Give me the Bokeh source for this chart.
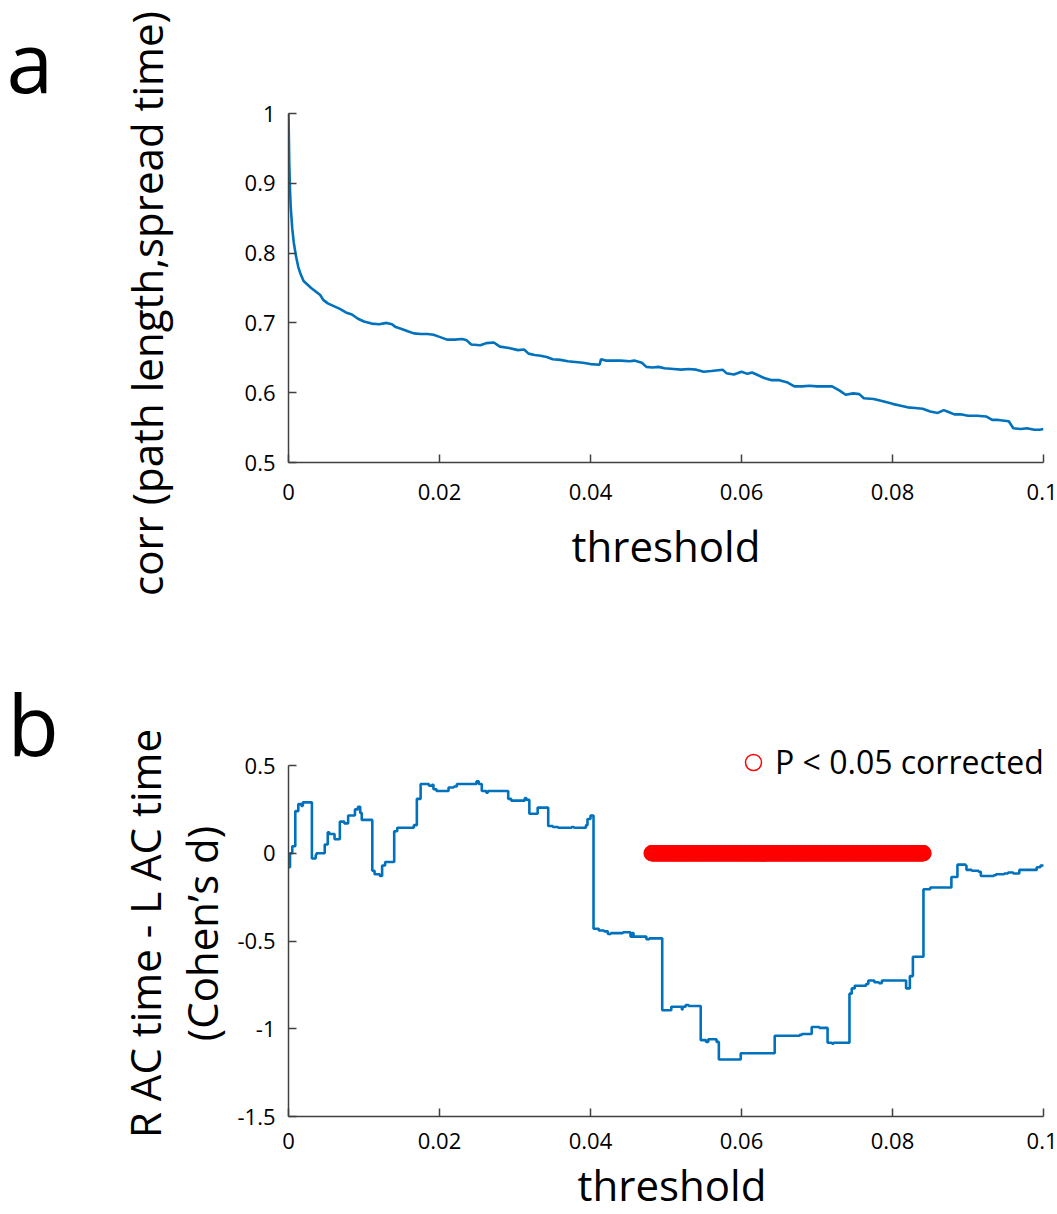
import numpy as np
from bokeh.plotting import figure
from bokeh.layouts import column, row
from bokeh.models import Range1d, FixedTicker, Label, Legend, LegendItem
from bokeh.embed import file_html
from bokeh.resources import INLINE

# ---------------- data ----------------
# panel a: correlation of path length with spread time vs threshold
thr_a = [0.0000, 0.0001, 0.0002, 0.0003, 0.0005, 0.0007, 0.0010, 0.0013, 0.0016, 0.0020,
         0.0025, 0.0030, 0.0036, 0.0042, 0.0046, 0.0052, 0.0060, 0.0068, 0.0076, 0.0084,
         0.0092, 0.0100, 0.0110, 0.0120, 0.0130, 0.0137, 0.0142, 0.0148, 0.0158, 0.0166,
         0.0175, 0.0184, 0.0192, 0.0200, 0.0210, 0.0220, 0.0230, 0.0236, 0.0242, 0.0254,
         0.0262, 0.0272, 0.0280, 0.0292, 0.0304, 0.0312, 0.0318, 0.0326, 0.0334, 0.0342,
         0.0350, 0.0360, 0.0370, 0.0380, 0.0390, 0.0400, 0.0412, 0.0414, 0.0420, 0.0440,
         0.0452, 0.0458, 0.0468, 0.0474, 0.0482, 0.0490, 0.0498, 0.0510, 0.0520, 0.0530,
         0.0540, 0.0550, 0.0560, 0.0575, 0.0580, 0.0590, 0.0600, 0.0608, 0.0614, 0.0620,
         0.0630, 0.0640, 0.0650, 0.0660, 0.0670, 0.0680, 0.0690, 0.0700, 0.0720, 0.0730,
         0.0738, 0.0748, 0.0756, 0.0762, 0.0775, 0.0786, 0.0800, 0.0808, 0.0820, 0.0830,
         0.0840, 0.0850, 0.0860, 0.0868, 0.0875, 0.0882, 0.0890, 0.0900, 0.0912, 0.0924,
         0.0932, 0.0940, 0.0954, 0.0960, 0.0970, 0.0978, 0.0988, 0.0995, 0.1000]
corr_a = [1.000, 0.930, 0.890, 0.865, 0.835, 0.815, 0.795, 0.780, 0.770, 0.760,
          0.755, 0.750, 0.745, 0.740, 0.733, 0.728, 0.724, 0.720, 0.715, 0.712,
          0.706, 0.702, 0.699, 0.698, 0.700, 0.698, 0.694, 0.692, 0.688, 0.685,
          0.684, 0.684, 0.683, 0.680, 0.676, 0.676, 0.677, 0.675, 0.669, 0.668,
          0.671, 0.672, 0.666, 0.664, 0.661, 0.662, 0.656, 0.654, 0.653, 0.651,
          0.648, 0.647, 0.645, 0.644, 0.643, 0.641, 0.640, 0.648, 0.646, 0.646,
          0.645, 0.646, 0.643, 0.637, 0.636, 0.637, 0.635, 0.634, 0.633, 0.634,
          0.633, 0.630, 0.631, 0.633, 0.628, 0.626, 0.630, 0.627, 0.629, 0.626,
          0.621, 0.618, 0.618, 0.615, 0.609, 0.609, 0.610, 0.609, 0.609, 0.603,
          0.597, 0.599, 0.598, 0.592, 0.591, 0.588, 0.584, 0.582, 0.579, 0.578,
          0.577, 0.573, 0.571, 0.575, 0.572, 0.569, 0.569, 0.567, 0.567, 0.566,
          0.561, 0.561, 0.559, 0.549, 0.548, 0.549, 0.547, 0.547, 0.548]

# panel b: R AC time - L AC time (Cohen's d), step levels starting at each threshold
thr_b = [0.0000, 0.0002, 0.0005, 0.0009, 0.0013, 0.0017, 0.0019, 0.0031, 0.0036, 0.0037,
         0.0048, 0.0052, 0.0054, 0.0061, 0.0068, 0.0074, 0.0079, 0.0088, 0.0092, 0.0095,
         0.0097, 0.0111, 0.0114, 0.0121, 0.0124, 0.0128, 0.0140, 0.0144, 0.0166, 0.0170,
         0.0175, 0.0186, 0.0190, 0.0192, 0.0196, 0.0212, 0.0219, 0.0223, 0.0249, 0.0252,
         0.0256, 0.0262, 0.0264, 0.0291, 0.0295, 0.0313, 0.0315, 0.0319, 0.0330, 0.0344,
         0.0350, 0.0357, 0.0370, 0.0375, 0.0378, 0.0394, 0.0396, 0.0400, 0.0404, 0.0411,
         0.0418, 0.0423, 0.0427, 0.0443, 0.0453, 0.0455, 0.0457, 0.0474, 0.0478, 0.0495,
         0.0507, 0.0521, 0.0522, 0.0526, 0.0530, 0.0546, 0.0553, 0.0556, 0.0567, 0.0570,
         0.0599, 0.0644, 0.0677, 0.0680, 0.0693, 0.0703, 0.0714, 0.0720, 0.0722, 0.0743,
         0.0746, 0.0750, 0.0765, 0.0768, 0.0776, 0.0782, 0.0786, 0.0818, 0.0823, 0.0827,
         0.0841, 0.0850, 0.0878, 0.0886, 0.0897, 0.0898, 0.0905, 0.0914, 0.0917, 0.0934,
         0.0937, 0.0948, 0.0953, 0.0960, 0.0968, 0.0991, 0.0996, 0.1000]
d_b = [-0.080, 0.000, 0.040, 0.240, 0.280, 0.270, 0.290, -0.030, -0.010, 0.000,
       0.050, 0.120, 0.110, 0.080, 0.180, 0.170, 0.215, 0.250, 0.265, 0.230,
       0.190, -0.100, -0.120, -0.130, -0.070, -0.050, 0.125, 0.145, 0.160, 0.310,
       0.395, 0.385, 0.390, 0.365, 0.355, 0.375, 0.380, 0.395, 0.410, 0.395,
       0.355, 0.345, 0.355, 0.310, 0.300, 0.315, 0.305, 0.225, 0.260, 0.155,
       0.150, 0.145, 0.145, 0.150, 0.145, 0.160, 0.195, 0.215, -0.430, -0.440,
       -0.445, -0.460, -0.455, -0.450, -0.475, -0.455, -0.475, -0.490, -0.485, -0.895,
       -0.875, -0.890, -0.875, -0.865, -0.870, -1.065, -1.075, -1.060, -1.075, -1.175,
       -1.140, -1.040, -1.035, -1.030, -0.990, -0.995, -1.080, -1.085, -1.080, -0.800,
       -0.770, -0.755, -0.745, -0.725, -0.735, -0.740, -0.725, -0.770, -0.700, -0.590,
       -0.205, -0.195, -0.135, -0.065, -0.070, -0.095, -0.100, -0.105, -0.130, -0.125,
       -0.120, -0.115, -0.110, -0.115, -0.095, -0.080, -0.070, -0.070]

# thresholds significant at P < 0.05 (corrected), evaluated on the threshold grid
sig_start = 0.0481
sig_end = 0.0841
thr_grid_step = 0.0001

x_ticks = [0, 0.02, 0.04, 0.06, 0.08, 0.1]
x_tick_labels = ["0", "0.02", "0.04", "0.06", "0.08", "0.1"]
ya_ticks = [0.5, 0.6, 0.7, 0.8, 0.9, 1.0]
ya_tick_labels = ["0.5", "0.6", "0.7", "0.8", "0.9", "1"]
yb_ticks = [-1.5, -1.0, -0.5, 0.0, 0.5]
yb_tick_labels = ["-1.5", "-1", "-0.5", "0", "0.5"]

x_title = "threshold"
ya_title = "corr (path length,spread time)"
yb_title = ["R AC time - L AC time", "(Cohen\u2019s d)"]
legend_text = "P < 0.05 corrected"

FONT = "Open Sans"
BLUE = "#0072BD"
AXC = "#404040"

H1 = 600    # height of the row with panel a
H2 = 614    # height of the row with panel b
LW = 230    # width of the strip holding panel letter and y title
PX_X = 7550            # px per threshold unit
PX_A = 698             # px per corr unit (panel a)
PX_B = 175.5           # px per Cohen's d unit (panel b)


def style(p, xt, xl, yt, yl):
    p.xaxis.ticker = FixedTicker(ticks=xt)
    p.xaxis.major_label_overrides = dict(zip(xt, xl))
    p.yaxis.ticker = FixedTicker(ticks=yt)
    p.yaxis.major_label_overrides = dict(zip(yt, yl))
    for ax in (p.xaxis[0], p.yaxis[0]):
        ax.axis_line_color = AXC
        ax.axis_line_width = 1.5
        ax.major_tick_line_color = AXC
        ax.major_tick_line_width = 1.5
        ax.major_tick_in = 8
        ax.major_tick_out = 0
        ax.minor_tick_line_color = None
        ax.major_label_text_font = FONT
        ax.major_label_text_font_size = "22px"
        ax.major_label_text_color = "black"
        ax.axis_label_text_font = FONT
        ax.axis_label_text_font_size = "42px"
        ax.axis_label_text_font_style = "normal"
        ax.axis_label_text_color = "black"
    p.yaxis.major_label_standoff = 13
    p.grid.visible = False
    p.outline_line_color = None
    p.background_fill_color = "white"
    p.border_fill_color = "white"


def side_fig(h):
    f = figure(frame_width=LW, frame_height=h, output_backend="svg", toolbar_location=None,
               x_range=Range1d(0, LW), y_range=Range1d(0, h),
               x_axis_location=None, y_axis_location=None,
               min_border_left=0, min_border_right=0, min_border_top=0, min_border_bottom=0)
    f.grid.visible = False
    f.outline_line_color = None
    return f


def add_text(f, txt, x, y, size, angle=0.0, align="left", baseline="alphabetic"):
    f.add_layout(Label(x=x, y=y, x_units="screen", y_units="screen", text=txt,
                       text_font=FONT, text_font_size=size, text_color="black",
                       angle=angle, text_align=align, text_baseline=baseline))


# ---------------- panel a ----------------
# frame reaches the top of the row (axis line bounded to 0.5..1) so rows align cleanly
pa = figure(frame_width=755, frame_height=462, output_backend="svg", toolbar_location=None,
            x_range=Range1d(0, 0.1), y_range=Range1d(0.5, 0.5 + 462 / PX_A),
            min_border_left=288 - LW, min_border_right=14, min_border_top=0,
            min_border_bottom=H1 - 462)
pa.line(thr_a, corr_a, line_color=BLUE, line_width=2.6)
pa.xaxis.axis_label = x_title
style(pa, x_ticks, x_tick_labels, ya_ticks, ya_tick_labels)
pa.yaxis.bounds = (0.5, 1.0)
pa.xaxis.major_label_standoff = 21
pa.xaxis.axis_label_standoff = 14

sa = side_fig(H1)
add_text(sa, "a", 6, H1 - 60, "84px")
add_text(sa, ya_title, 146, H1 - 303, "42px", angle=np.pi / 2, align="center", baseline="middle")

# ---------------- panel b ----------------
pb = figure(frame_width=767, frame_height=516, output_backend="svg", toolbar_location=None,
            x_range=Range1d(0, 0.1 + 12 / PX_X), y_range=Range1d(-1.5, -1.5 + 516 / PX_B),
            min_border_left=288 - LW, min_border_right=2, min_border_top=0,
            min_border_bottom=H2 - 516)
pb.step(thr_b, d_b, mode="after", line_color=BLUE, line_width=2.6)

sig_x = np.round(np.arange(sig_start, sig_end + thr_grid_step / 2, thr_grid_step), 4)
sig_y = np.zeros(len(sig_x))
r_sig = pb.scatter(sig_x, sig_y, marker="circle", size=15, fill_color=None,
                   line_color="#FF0000", line_width=1.5)

pb.xaxis.axis_label = x_title
style(pb, x_ticks, x_tick_labels, yb_ticks, yb_tick_labels)
pb.xaxis.bounds = (0, 0.1)
pb.yaxis.bounds = (-1.5, 0.5)
pb.xaxis.major_label_standoff = 16
pb.xaxis.axis_label_standoff = 4

legend = Legend(items=[LegendItem(label=legend_text, renderers=[r_sig])],
                location=(445, 333), border_line_color=None, background_fill_alpha=0,
                padding=0, margin=0, glyph_width=40, glyph_height=40, label_height=40,
                label_standoff=2, label_text_font=FONT, label_text_font_size="32px",
                label_text_color="black")
pb.add_layout(legend)

sb = side_fig(H2)
add_text(sb, "b", 7, H2 - 123, "84px")
add_text(sb, yb_title[0], 144, H2 - 333, "42px", angle=np.pi / 2, align="center", baseline="middle")
add_text(sb, yb_title[1], 201, H2 - 333, "42px", angle=np.pi / 2, align="center", baseline="middle")

layout = column(row(sa, pa, spacing=0), row(sb, pb, spacing=0), spacing=0)
open("out.html", "w").write(file_html(layout, INLINE))
